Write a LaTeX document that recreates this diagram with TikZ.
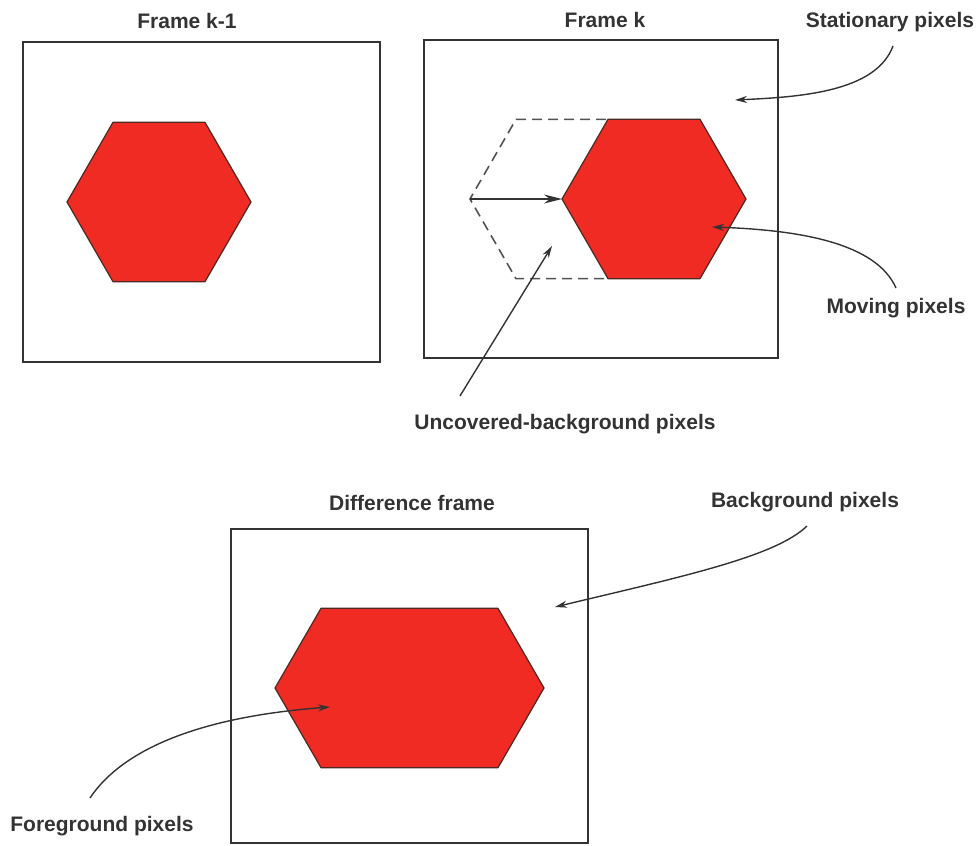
\documentclass[tikz,border=0pt]{standalone}
\usepackage{fontspec}
\setmainfont{Liberation Sans}
\usetikzlibrary{arrows.meta,calc}
\definecolor{HexRed}{HTML}{EF2B23}
\definecolor{HexEdge}{HTML}{4A2A22}
\definecolor{InkGray}{HTML}{333333}

\begin{document}
\begin{tikzpicture}[x=1pt,y=-1pt,
    frame/.style={draw=InkGray,line width=1.7pt},
    hexfill/.style={fill=HexRed,draw=HexEdge,line width=1.2pt,line join=round},
    hexghost/.style={draw=InkGray!85,line width=1.6pt,dash pattern=on 10pt off 6pt},
    tag/.style={font=\bfseries\fontsize{21}{24}\selectfont,text=InkGray,inner sep=2pt},
    pointer/.style={draw=InkGray,line width=1.4pt,-{Stealth[length=12pt,width=7pt]}}]
    \useasboundingbox (0,0) rectangle (978,846);
    % hexagon centres: frame k-1, old and new position in frame k, difference
    \coordinate (O1) at (159,202);
    \coordinate (O2) at (562,199);
    \coordinate (O3) at (654,199);
    \coordinate (O4) at (367,688);
    \coordinate (O5) at (452,688);
    \foreach \c in {1,...,5} {
     \foreach \angle/\name in {0/A,60/B,120/C,180/D,240/E,300/F} {
      \coordinate (\name\c) at ($(O\c)+(\angle:92)$);
     }
    }
    % frames
    \draw[frame] (23,42) rectangle (380,362);
    \draw[frame] (424,40) rectangle (778,358);
    \draw[frame] (231,529) rectangle (588,843);
    \node[tag] (tk1) at (187,21) {Frame k-1};
    \node[tag] (tk) at (605,20) {Frame k};
    \node[tag] (tdiff) at (412,503) {Difference frame};
    % objects
    \draw[hexfill] (A1)--(B1)--(C1)--(D1)--(E1)--(F1)--cycle;
    \draw[hexghost] (A2)--(B2)--(C2)--(D2)--(E2)--(F2)--cycle;
    \draw[hexfill] (A3)--(B3)--(C3)--(D3)--(E3)--(F3)--cycle;
    \draw[draw=InkGray,line width=1.6pt,-{Stealth[length=18pt,width=9pt]}] (D2) -- (D3);
    \draw[hexfill] (A5)--(B5)--(C4)--(D4)--(E4)--(F5)--cycle;
    % labels and pointers
    \node[tag] (stat) at (890,22) {Stationary pixels};
    \node[tag] (mov) at (896,308) {Moving pixels};
    \node[tag] (unc) at (565,424) {Uncovered-background pixels};
    \node[tag] (back) at (805,502) {Background pixels};
    \node[tag] (fore) at (102,826) {Foreground pixels};
    \coordinate (statTip) at (735,100);
    \coordinate (movTip) at (712,227);
    \coordinate (uncTip) at (552,246);
    \coordinate (backTip) at (555,607);
    \coordinate (foreTip) at (330,707);
    \draw[pointer] ($(stat.south)+(3,12)$) .. controls (876,92) and (800,97) .. (statTip);
    \draw[pointer] ($(mov.north)+(0,-8)$) .. controls (876,243) and (800,230) .. (movTip);
    \draw[pointer] ($(unc.north)+(-105,-16)$) -- (uncTip);
    \draw[pointer] ($(back.south)+(2,12)$) .. controls (775,557) and (680,577) .. (backTip);
    \draw[pointer] ($(fore.north)+(-12,-16)$) .. controls (118,756) and (185,718) .. (foreTip);
\end{tikzpicture}
\end{document}
